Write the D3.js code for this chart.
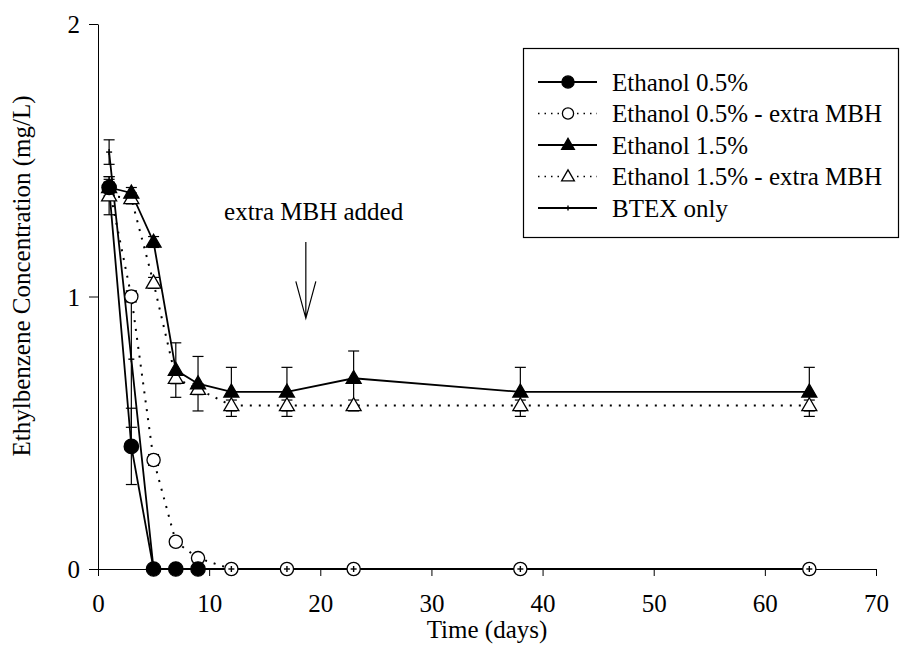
<!DOCTYPE html>
<html>
<head>
<meta charset="utf-8">
<script src="https://cdn.jsdelivr.net/npm/d3@7"></script>
<style>
  html, body { margin: 0; padding: 0; background: #fff; }
  svg { display: block; }
  text { font-family: "Liberation Serif", "Times New Roman", serif; fill: #000; }
</style>
</head>
<body>
<svg id="chart" width="912" height="669"></svg>
<script>
// Sampling days
const days = [1, 3, 5, 7, 9, 12, 17, 23, 38, 64];

// Ethylbenzene concentration (mg/L) per treatment
const eth05      = [1.40, 0.45, 0, 0, 0];
const eth05Err   = [0.04, 0.14, 0, 0, 0];
const eth05Mbh   = [1.40, 1.00, 0.40, 0.10, 0.04, 0, 0, 0, 0, 0];
const eth05MbhErr= [0.02, 0.02, 0.02, 0.01, 0.01, 0, 0, 0, 0, 0];
const eth15      = [1.40, 1.38, 1.20, 0.73, 0.68, 0.65, 0.65, 0.70, 0.65, 0.65];
const eth15Err   = [0.03, 0.02, 0.02, 0.10, 0.10, 0.09, 0.09, 0.10, 0.09, 0.09];
const eth15Mbh   = [1.37, 1.36, 1.05, 0.70, 0.66, 0.60, 0.60, 0.60, 0.60, 0.60];
const eth15MbhErr= [0.07, 0.02, 0.02, 0.02, 0.02, 0.02, 0.02, 0.02, 0.02, 0.02];
const btex       = [1.53, 0.77, 0, 0, 0, 0, 0, 0, 0, 0];
const btexErr    = [0.045, 0.25, 0, 0, 0, 0, 0, 0, 0, 0];

// Axis ticks and labels
const xTicks = [0, 10, 20, 30, 40, 50, 60, 70];
const yTicks = [0, 1, 2];
const xLabel = "Time (days)";
const yLabel = "Ethylbenzene Concentration (mg/L)";

// Annotation (data units)
const noteText = "extra MBH added";
const noteDay = 19.4, noteLevel = 1.28;
const arrowDay = 18.7, arrowFrom = 1.20, arrowTo = 0.92;

const series = [
  { name: "Ethanol 0.5%",               vals: eth05,    err: eth05Err,    marker: "circle",   fill: "#000", dotted: false },
  { name: "Ethanol 0.5% - extra MBH",   vals: eth05Mbh, err: eth05MbhErr, marker: "circle",   fill: "#fff", dotted: true },
  { name: "Ethanol 1.5%",               vals: eth15,    err: eth15Err,    marker: "triangle", fill: "#000", dotted: false },
  { name: "Ethanol 1.5% - extra MBH",   vals: eth15Mbh, err: eth15MbhErr, marker: "triangle", fill: "#fff", dotted: true },
  { name: "BTEX only",                  vals: btex,     err: btexErr,     marker: "plus",     fill: "#000", dotted: false }
];

const FONT = "Liberation Serif, Times New Roman, serif";
const svg = d3.select("#chart");
const x = d3.scaleLinear().domain([0, 70]).range([98, 876]);
const y = d3.scaleLinear().domain([0, 2]).range([569, 24]);

// Axes
const xAxis = d3.axisBottom(x).tickValues(xTicks).tickFormat(d3.format("d"))
  .tickSize(7).tickSizeOuter(0).tickPadding(18);
const yAxis = d3.axisLeft(y).tickValues(yTicks).tickFormat(d3.format("d"))
  .tickSize(9).tickSizeOuter(0).tickPadding(9);

const gx = svg.append("g").attr("transform", `translate(0,${y(0)})`).call(xAxis);
const gy = svg.append("g").attr("transform", `translate(${x(0)},0)`).call(yAxis);
[gx, gy].forEach(g => {
  g.attr("font-family", FONT);
  g.select(".domain").attr("stroke", "#000").attr("stroke-width", 1);
  g.selectAll(".tick line").attr("stroke", "#000").attr("stroke-width", 1);
  g.selectAll(".tick text").attr("font-size", 25).attr("font-family", FONT).attr("fill", "#000");
});
gy.selectAll(".tick text").attr("dy", "0.34em");

svg.append("text").attr("x", 487).attr("y", 638).attr("text-anchor", "middle")
  .attr("font-family", FONT).attr("font-size", 25).text(xLabel);
svg.append("text").attr("transform", "translate(30,276) rotate(-90)").attr("text-anchor", "middle")
  .attr("font-family", FONT).attr("font-size", 25).text(yLabel);

const plot = svg.append("g");

// Error bars
const capW = 5.5;
series.forEach(s => {
  s.vals.forEach((v, i) => {
    const e = s.err[i];
    if (!e) return;
    const cx = x(days[i]);
    const g = plot.append("g").attr("stroke", "#000").attr("stroke-width", 1.2);
    g.append("line").attr("x1", cx).attr("x2", cx).attr("y1", y(v + e)).attr("y2", y(v - e));
    g.append("line").attr("x1", cx - capW).attr("x2", cx + capW).attr("y1", y(v + e)).attr("y2", y(v + e));
    g.append("line").attr("x1", cx - capW).attr("x2", cx + capW).attr("y1", y(v - e)).attr("y2", y(v - e));
  });
});

// Lines
const line = d3.line().x(d => x(d[0])).y(d => y(d[1]));
series.forEach(s => {
  const pts = s.vals.map((v, i) => [days[i], v]);
  plot.append("path").attr("d", line(pts)).attr("fill", "none").attr("stroke", "#000")
    .attr("stroke-width", s.dotted ? 2 : 1.8)
    .attr("stroke-dasharray", s.dotted ? "2,7" : null);
});

// Marker drawing
function drawMarker(g, s, cx, cy, scale) {
  const k = scale || 1;
  if (s.marker === "circle") {
    g.append("circle").attr("cx", cx).attr("cy", cy).attr("r", (s.fill === "#000" ? 7.2 : 6.6) * k)
      .attr("fill", s.fill).attr("stroke", "#000").attr("stroke-width", 1.3);
  } else if (s.marker === "triangle") {
    const h = 13 * k, w = 15 * k;
    const p = d3.path();
    p.moveTo(cx, cy - h * 0.6); p.lineTo(cx + w / 2, cy + h * 0.4); p.lineTo(cx - w / 2, cy + h * 0.4); p.closePath();
    g.append("path").attr("d", p.toString()).attr("fill", s.fill).attr("stroke", "#000").attr("stroke-width", 1.3);
  } else {
    const a = 3 * k;
    g.append("line").attr("x1", cx - a).attr("x2", cx + a).attr("y1", cy).attr("y2", cy).attr("stroke", "#000").attr("stroke-width", 1.4);
    g.append("line").attr("x1", cx).attr("x2", cx).attr("y1", cy - a).attr("y2", cy + a).attr("stroke", "#000").attr("stroke-width", 1.4);
  }
}

// Markers, drawn after all lines
const markerOrder = [3, 2, 1, 0, 4];
markerOrder.forEach(si => {
  const s = series[si];
  s.vals.forEach((v, i) => drawMarker(plot, s, x(days[i]), y(v)));
});

// Annotation
svg.append("text").attr("x", x(noteDay)).attr("y", y(noteLevel)).attr("text-anchor", "middle")
  .attr("font-family", FONT).attr("font-size", 25).text(noteText);
const ax = x(arrowDay), ay0 = y(arrowFrom), ay1 = y(arrowTo);
svg.append("path")
  .attr("d", `M${ax},${ay0}L${ax},${ay1}M${ax - 10},${ay1 - 37}L${ax},${ay1}L${ax + 10},${ay1 - 37}`)
  .attr("fill", "none").attr("stroke", "#000").attr("stroke-width", 1.2);

// Legend
const legend = svg.append("g");
legend.append("rect").attr("x", 523.5).attr("y", 48.5).attr("width", 375).attr("height", 189)
  .attr("fill", "#fff").attr("stroke", "#000").attr("stroke-width", 1.2);
series.forEach((s, i) => {
  const cy = 82 + i * 31.5;
  legend.append("line").attr("x1", 538).attr("x2", 597).attr("y1", cy).attr("y2", cy)
    .attr("stroke", "#000").attr("stroke-width", s.dotted ? 1.6 : 1.8)
    .attr("stroke-dasharray", s.dotted ? "1.5,5" : null);
  if (s.dotted) {
    legend.append("rect").attr("x", 559).attr("y", cy - 8).attr("width", 18).attr("height", 16).attr("fill", "#fff");
  }
  drawMarker(legend, s, 568, cy, 0.85);
  legend.append("text").attr("x", 612).attr("y", cy).attr("dy", "0.34em")
    .attr("font-family", FONT).attr("font-size", 25).text(s.name);
});
</script>
</body>
</html>
